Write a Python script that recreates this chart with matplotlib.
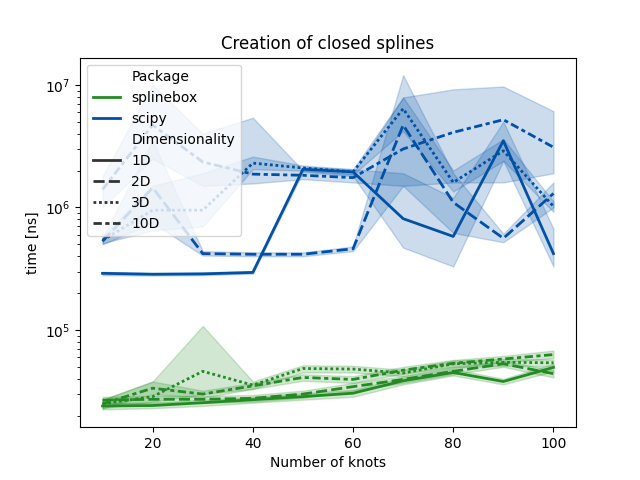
import matplotlib
matplotlib.use("Agg")
from matplotlib import pyplot as plt
from matplotlib.lines import Line2D

knots = [10, 20, 30, 40, 50, 60, 70, 80, 90, 100]
dims = ["1D", "2D", "3D", "10D"]

# scipy: mean and confidence band per dimensionality
scipy_mean = {
    "1D": [2.9e5, 2.85e5, 2.87e5, 2.95e5, 2.05e6, 1.95e6, 8.1e5, 5.8e5, 3.5e6, 4.2e5],
    "2D": [5.3e5, 1.45e6, 4.2e5, 4.15e5, 4.15e5, 4.6e5, 4.7e6, 1.1e6, 5.6e5, 1.3e6],
    "3D": [5.4e5, 9.5e5, 9.5e5, 2.3e6, 2.1e6, 1.95e6, 6.4e6, 1.6e6, 2.9e6, 1.02e6],
    "10D": [1.4e6, 4.7e6, 2.35e6, 1.87e6, 1.83e6, 1.75e6, 3.0e6, 4.1e6, 5.2e6, 3.1e6],
}
scipy_lo = {
    "1D": [2.8e5, 2.78e5, 2.8e5, 2.88e5, 1.95e6, 1.8e6, 4.7e5, 3.3e5, 2.4e6, 3.3e5],
    "2D": [5.0e5, 7.5e5, 4.05e5, 4.0e5, 4.0e5, 4.4e5, 1.5e6, 6.2e5, 5.2e5, 1.0e6],
    "3D": [5.1e5, 6.5e5, 7.0e5, 2.05e6, 2.0e6, 1.85e6, 4.2e6, 1.35e6, 2.4e6, 9.2e5],
    "10D": [1.0e6, 2.5e6, 1.5e6, 1.57e6, 1.7e6, 1.6e6, 1.5e6, 1.6e6, 1.6e6, 1.9e6],
}
scipy_hi = {
    "1D": [2.98e5, 2.92e5, 2.95e5, 3.02e5, 2.15e6, 2.05e6, 1.9e6, 1.2e6, 5.0e6, 6.7e5],
    "2D": [5.7e5, 3.5e6, 4.4e5, 4.3e5, 4.3e5, 4.8e5, 1.2e7, 1.9e6, 6.1e5, 1.6e6],
    "3D": [5.8e5, 1.5e6, 1.9e6, 2.6e6, 2.2e6, 2.05e6, 7.9e6, 2.0e6, 3.6e6, 1.12e6],
    "10D": [1.8e6, 1.0e7, 4.0e6, 5.4e6, 2.0e6, 1.9e6, 7.9e6, 9.2e6, 9.7e6, 6.1e6],
}

# splinebox
sb_mean = {
    "1D": [2.4e4, 2.42e4, 2.55e4, 2.7e4, 2.86e4, 3.05e4, 3.85e4, 4.5e4, 3.8e4, 4.95e4],
    "2D": [2.68e4, 2.72e4, 2.72e4, 2.77e4, 3.0e4, 3.45e4, 3.95e4, 4.6e4, 5.3e4, 4.4e4],
    "3D": [2.5e4, 2.86e4, 4.6e4, 3.55e4, 4.85e4, 4.8e4, 4.45e4, 5.3e4, 5.45e4, 5.4e4],
    "10D": [2.5e4, 3.35e4, 3.0e4, 3.5e4, 4.1e4, 3.95e4, 4.7e4, 5.35e4, 5.8e4, 6.3e4],
}
sb_lo = {
    "1D": [2.25e4, 2.3e4, 2.4e4, 2.55e4, 2.7e4, 2.85e4, 3.6e4, 4.25e4, 3.6e4, 4.6e4],
    "2D": [2.5e4, 2.55e4, 2.55e4, 2.6e4, 2.8e4, 3.2e4, 3.7e4, 4.35e4, 5.0e4, 4.1e4],
    "3D": [2.3e4, 2.6e4, 3.0e4, 3.3e4, 4.5e4, 4.5e4, 4.2e4, 4.95e4, 5.1e4, 5.05e4],
    "10D": [2.3e4, 3.0e4, 2.8e4, 3.3e4, 3.85e4, 3.7e4, 4.4e4, 5.0e4, 5.45e4, 5.9e4],
}
sb_hi = {
    "1D": [2.55e4, 2.55e4, 2.7e4, 2.85e4, 3.05e4, 3.25e4, 4.1e4, 4.8e4, 4.0e4, 5.3e4],
    "2D": [2.85e4, 2.9e4, 2.9e4, 2.95e4, 3.2e4, 3.7e4, 4.2e4, 4.9e4, 5.6e4, 4.7e4],
    "3D": [2.7e4, 3.8e4, 1.08e5, 3.8e4, 5.15e4, 5.1e4, 4.75e4, 5.65e4, 5.8e4, 5.75e4],
    "10D": [2.7e4, 3.8e4, 3.2e4, 3.7e4, 4.35e4, 4.2e4, 5.0e4, 5.7e4, 6.15e4, 6.8e4],
}

colors = {"splinebox": "#228b22", "scipy": "#0051a6"}
dashes = {"1D": "", "2D": (4, 1.5), "3D": (1, 1), "10D": (3, 1.25, 1.5, 1.25)}

fig, ax = plt.subplots(figsize=(6.4, 4.8), dpi=100)

for pkg, means, los, his in [("splinebox", sb_mean, sb_lo, sb_hi),
                             ("scipy", scipy_mean, scipy_lo, scipy_hi)]:
    c = colors[pkg]
    for d in dims:
        ax.fill_between(knots, los[d], his[d], color=c, alpha=0.2, linewidth=1)
        line, = ax.plot(knots, means[d], color=c, linewidth=2)
        if dashes[d]:
            line.set_dashes(dashes[d])

ax.set_yscale("log")
ax.set_ylim(1.61e4, 1.67e7)
ax.set_title("Creation of closed splines")
ax.set_xlabel("Number of knots")
ax.set_ylabel("time [ns]")

# seaborn-like legend with sub-titles
handles = [Line2D([], [], color="none", label="Package")]
for pkg in ["splinebox", "scipy"]:
    handles.append(Line2D([], [], color=colors[pkg], linewidth=2, label=pkg))
handles.append(Line2D([], [], color="none", label="Dimensionality"))
for d in dims:
    h = Line2D([], [], color=".2", linewidth=2, label=d)
    if dashes[d]:
        h.set_dashes(dashes[d])
    handles.append(h)
ax.legend(handles=handles, loc="upper left")

fig.savefig("out.png")
